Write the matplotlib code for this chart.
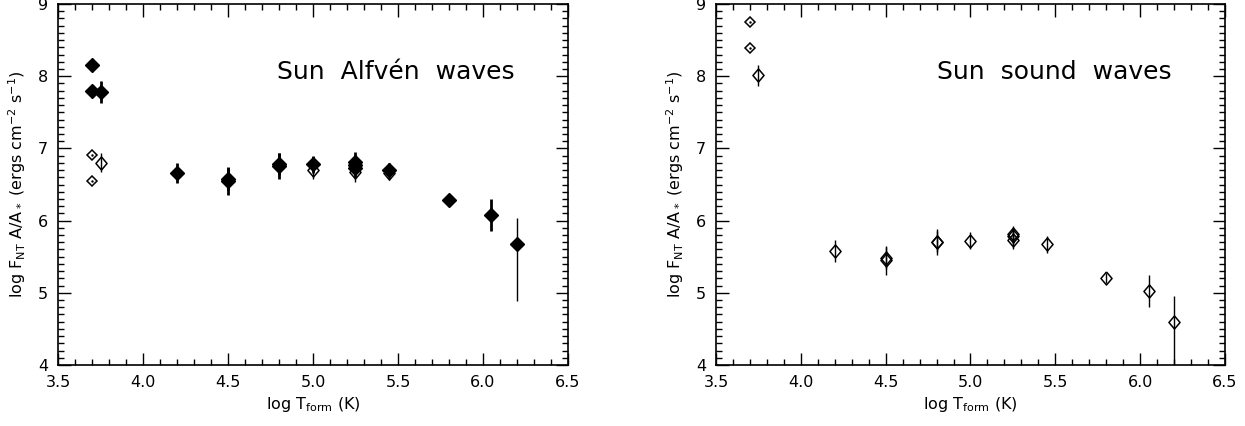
import matplotlib.pyplot as plt
from matplotlib.ticker import MultipleLocator

# log T_form and log F_NT A/A*
# Alfven waves, filled diamonds
alf_x = [3.70, 3.70, 3.75, 4.20, 4.50, 4.50, 4.80, 4.80, 5.00, 5.25, 5.25, 5.25, 5.45, 5.80, 6.05, 6.20]
alf_y = [8.15, 7.80, 7.78, 6.66, 6.55, 6.58, 6.76, 6.78, 6.78, 6.81, 6.77, 6.73, 6.70, 6.28, 6.08, 5.67]
alf_lo = [0.0, 0.0, 0.15, 0.14, 0.19, 0.15, 0.18, 0.15, 0.12, 0.14, 0.12, 0.12, 0.10, 0.05, 0.22, 0.79]
alf_hi = [0.0, 0.0, 0.15, 0.14, 0.19, 0.15, 0.18, 0.15, 0.12, 0.14, 0.12, 0.12, 0.10, 0.05, 0.22, 0.36]

# Alfven waves, open diamonds
alf_open_x = [3.75, 5.00, 5.25, 5.45]
alf_open_y = [6.80, 6.70, 6.67, 6.66]
alf_open_err = [0.13, 0.12, 0.14, 0.10]
alf_dot_x = [3.70, 3.70]
alf_dot_y = [6.91, 6.55]

# sound waves, open diamonds
snd_x = [3.75, 4.20, 4.50, 4.50, 4.80, 4.80, 5.00, 5.25, 5.25, 5.25, 5.45, 5.80, 6.05, 6.20]
snd_y = [8.01, 5.58, 5.45, 5.48, 5.70, 5.71, 5.72, 5.81, 5.78, 5.73, 5.67, 5.21, 5.02, 4.60]
snd_lo = [0.15, 0.15, 0.20, 0.15, 0.18, 0.14, 0.12, 0.12, 0.12, 0.12, 0.12, 0.07, 0.22, 0.70]
snd_hi = [0.15, 0.15, 0.20, 0.15, 0.18, 0.14, 0.12, 0.12, 0.12, 0.12, 0.12, 0.07, 0.22, 0.36]
snd_dot_x = [3.70, 3.70]
snd_dot_y = [8.75, 8.39]

# slightly tall diamond like the IDL symbol
diam = [(0, 1), (0.85, 0), (0, -1), (-0.85, 0), (0, 1)]

fig = plt.figure(figsize=(12.45, 4.26), dpi=100)
ax1 = fig.add_axes([0.0466, 0.1432, 0.4096, 0.8474])
ax2 = fig.add_axes([0.5751, 0.1432, 0.4088, 0.8474])

ylab = r'log F$_{\rm NT}$ A/A$_*$ (ergs cm$^{-2}$ s$^{-1}$)'
xlab = r'log T$_{\rm form}$ (K)'


def style(ax):
    ax.set_xlim(3.5, 6.5)
    ax.set_ylim(4, 9)
    ax.xaxis.set_major_locator(MultipleLocator(0.5))
    ax.xaxis.set_minor_locator(MultipleLocator(0.1))
    ax.yaxis.set_major_locator(MultipleLocator(1))
    ax.yaxis.set_minor_locator(MultipleLocator(0.1))
    ax.xaxis.set_major_formatter(plt.FormatStrFormatter('%.1f'))
    ax.tick_params(which='both', direction='in', top=True, right=True, width=1)
    ax.tick_params(which='major', length=9, labelsize=11.5, pad=7)
    ax.tick_params(which='minor', length=4.5)
    ax.set_xlabel(xlab, fontsize=11.5, labelpad=4)
    ax.set_ylabel(ylab, fontsize=11.5, labelpad=7)
    for s in ax.spines.values():
        s.set_linewidth(1.2)


def dots(ax, xs, ys):
    ax.plot(xs, ys, 'D', mfc='none', mec='black', ms=5, mew=1.1)
    ax.plot(xs, ys, '.', color='black', ms=1.5)


# left panel
ax1.errorbar(alf_open_x, alf_open_y, yerr=alf_open_err, fmt='none', ecolor='black',
             elinewidth=1, capsize=0, zorder=2)
ax1.plot(alf_open_x, alf_open_y, ls='none', marker=diam, mfc='none', mec='black',
         ms=9.4, mew=1.1, zorder=2)
eb = ax1.errorbar(alf_x, alf_y, yerr=[alf_lo, alf_hi], fmt='D', color='black',
                  ms=7, elinewidth=2, capsize=0, zorder=3)
eb[2][0].set_linewidths([2] * (len(alf_x) - 1) + [1])
dots(ax1, alf_dot_x, alf_dot_y)
ax1.text(4.79, 8.06, 'Sun  Alfvén  waves', fontsize=18, va='center', ha='left')
style(ax1)

# right panel
ax2.errorbar(snd_x, snd_y, yerr=[snd_lo, snd_hi], fmt='none', ecolor='black',
             elinewidth=1, capsize=0)
ax2.plot(snd_x, snd_y, ls='none', marker=diam, mfc='none', mec='black', ms=9.4, mew=1.1)
dots(ax2, snd_dot_x, snd_dot_y)
ax2.text(4.80, 8.06, 'Sun  sound  waves', fontsize=18, va='center', ha='left')
style(ax2)

plt.savefig('out.png', dpi=100)
